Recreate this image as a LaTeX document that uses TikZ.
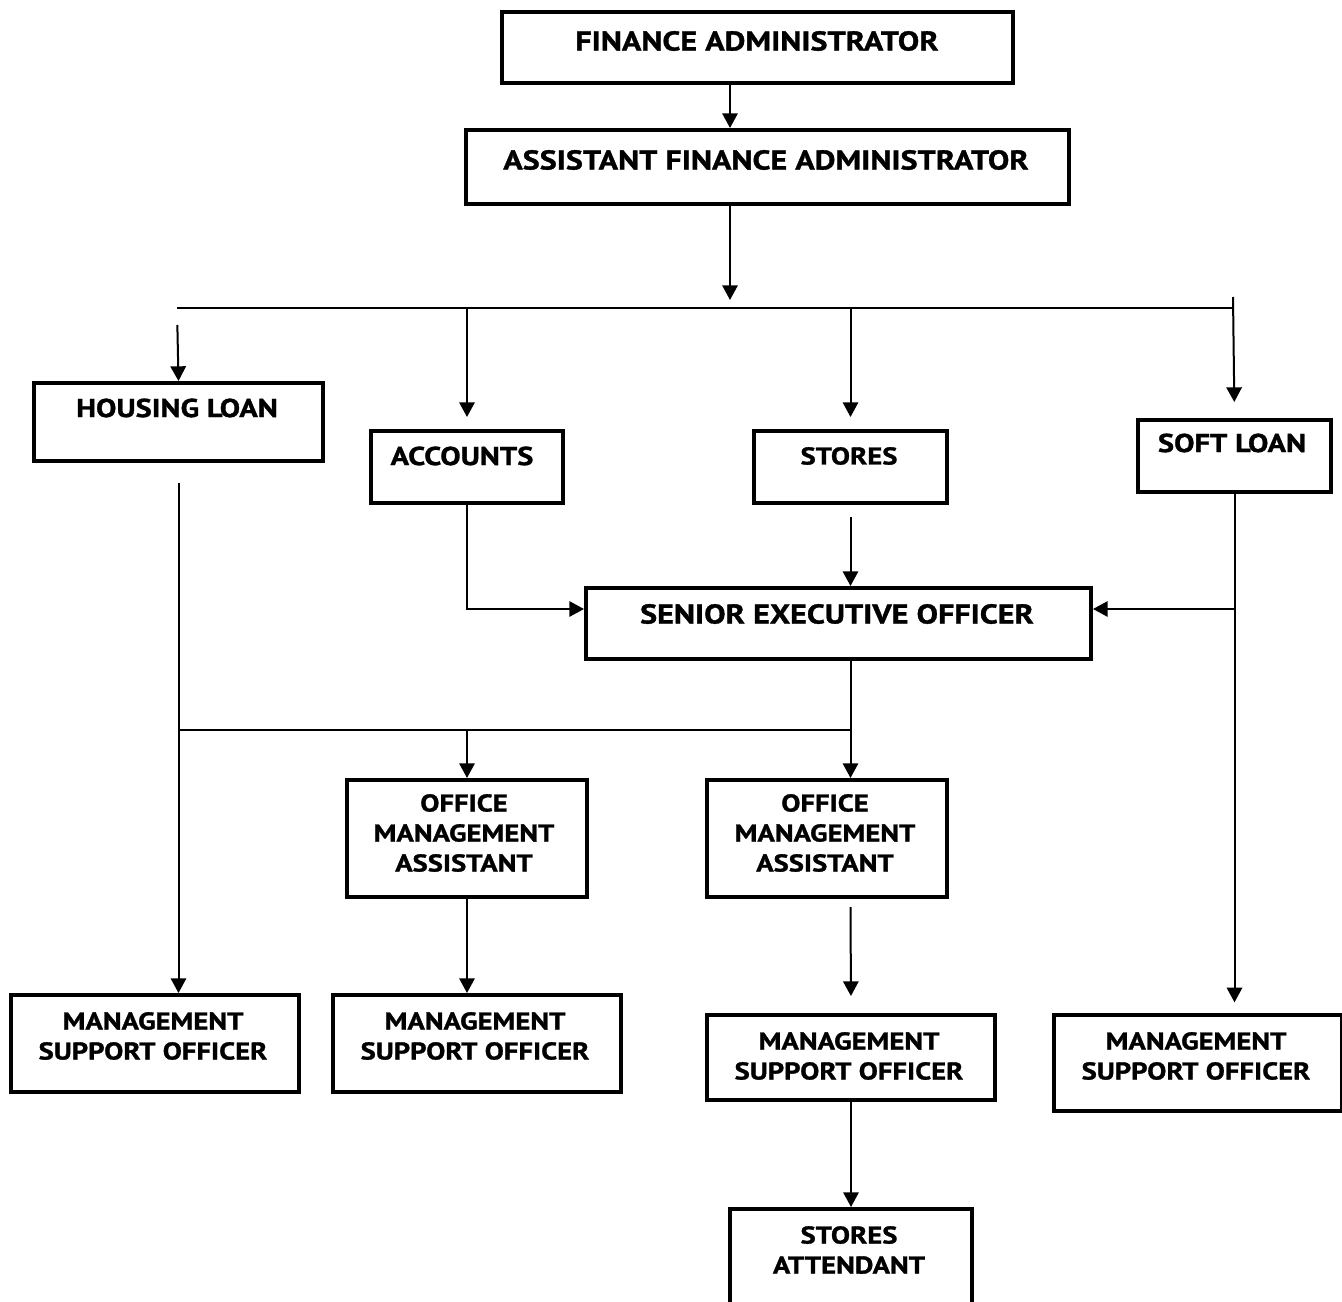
\documentclass[tikz,border=0pt]{standalone}
\usepackage{fontspec}
\setmainfont{PT Sans}[BoldFeatures={FakeStretch=1.18,FakeBold=1.2}]
\usetikzlibrary{arrows.meta}
\begin{document}
\begin{tikzpicture}[x=0.75pt,y=-0.75pt,
  box/.style={draw,line width=3pt,rectangle,inner sep=0pt,anchor=north west},
  lbl/.style={font=\bfseries\fontsize{18.2}{22.5}\selectfont,align=center,inner sep=0pt},
  midlbl/.style={font=\bfseries\fontsize{19.4}{22.5}\selectfont,align=center,inner sep=0pt},
  biglbl/.style={font=\bfseries\fontsize{20.4}{22.5}\selectfont,align=center,inner sep=0pt},
  conn/.style={line width=1.5pt},
  arr/.style={line width=1.5pt,-{Triangle[length=11pt,width=11.5pt]}}]
\clip (0,0) rectangle (1342,1302);
\fill[white] (0,0) rectangle (1342,1302);
% boxes
\node[box,minimum width=383.25pt,minimum height=53.25pt] (fa) at (500,10) {};
\node[box,minimum width=452.25pt,minimum height=55.5pt] (afa) at (464,128) {};
\node[box,minimum width=216.75pt,minimum height=58.5pt] (hl) at (32,381) {};
\node[box,minimum width=144pt,minimum height=54pt] (acc) at (369,429) {};
\node[box,minimum width=144.75pt,minimum height=54pt] (st) at (752,429) {};
\node[box,minimum width=144.75pt,minimum height=54pt] (sl) at (1136,418) {};
\node[box,minimum width=378.75pt,minimum height=53.25pt] (seo) at (584,586) {};
\node[box,minimum width=180pt,minimum height=87.75pt] (oma1) at (345,778) {};
\node[box,minimum width=180pt,minimum height=87.75pt] (oma2) at (705,778) {};
\node[box,minimum width=216pt,minimum height=72.75pt] (mso1) at (9,993) {};
\node[box,minimum width=216pt,minimum height=72.75pt] (mso2) at (331,993) {};
\node[box,minimum width=216pt,minimum height=63.75pt] (mso3) at (705,1013) {};
\node[box,minimum width=216pt,minimum height=72pt] (mso4) at (1052,1013) {};
\node[box,minimum width=181.5pt,minimum height=90pt] (sa) at (728,1207) {};
% labels
\node[biglbl] (tfa) at (757,41) {FINANCE ADMINISTRATOR};
\node[biglbl] (tafa) at (766,160) {ASSISTANT FINANCE ADMINISTRATOR};
\node[midlbl] (thl) at (177,408) {HOUSING LOAN};
\node[midlbl] (tacc) at (462,456) {ACCOUNTS};
\node[lbl] (tst) at (849,456) {STORES};
\node[midlbl] (tsl) at (1232,443) {SOFT LOAN};
\node[biglbl] (tseo) at (837,614) {SENIOR EXECUTIVE OFFICER};
\node[lbl] (toma1) at (464,833) {OFFICE\\MANAGEMENT\\ASSISTANT};
\node[lbl] (toma2) at (825,833) {OFFICE\\MANAGEMENT\\ASSISTANT};
\node[lbl] (tmso1) at (153,1036) {MANAGEMENT\\SUPPORT OFFICER};
\node[lbl] (tmso2) at (475,1036) {MANAGEMENT\\SUPPORT OFFICER};
\node[lbl] (tmso3) at (849,1056) {MANAGEMENT\\SUPPORT OFFICER};
\node[lbl] (tmso4) at (1196,1056) {MANAGEMENT\\SUPPORT OFFICER};
\node[lbl] (tsa) at (849,1250) {STORES\\ATTENDANT};
% helper coordinates
\coordinate (c730) at (730,0);
\coordinate (busT) at (730,300);
\coordinate (busL) at (177,308);
\coordinate (busR) at (1233,308);
\coordinate (slTop) at (1233,297);
\coordinate (y609) at (0,609);
\coordinate (y730) at (0,730);
% connectors
\draw[arr] (fa.south -| c730) -- (afa.north -| c730);
\draw[arr] (afa.south -| c730) -- (busT);
\draw[conn] (busL) -- (busR);
\draw[arr,shorten >=12pt] (slTop) -- (sl.north);
\draw[arr,shorten <=12.75pt] (busL) -- (hl.north);
\draw[arr,shorten >=9pt] (busL -| acc.north) -- (acc.north);
\draw[arr,shorten >=9pt] (busL -| st.north) -- (st.north);
\draw[arr] (acc.south) |- (seo.west |- y609);
\draw[arr,shorten <=9pt] (st.south) -- (st.south |- seo.north);
\draw[arr,shorten >=8pt] (sl.south) -- (sl.south |- mso4.north);
\draw[arr] (sl.south |- y609) -- (seo.east |- y609);
\draw[arr,shorten <=15pt] (hl.south) -- (hl.south |- mso1.north);
\draw[arr] (st.south |- seo.south) -- (st.south |- oma2.north);
\draw[conn] (hl.south |- y730) -- (st.south |- y730);
\draw[arr] (acc.south |- y730) -- (acc.south |- oma1.north);
\draw[arr] (oma1.south) -- (oma1.south |- mso2.north);
\draw[arr,shorten <=6pt,shorten >=12.75pt] (oma2.south -| st.south) -- (mso3.north);
\draw[arr] (mso3.south) -- (sa.north);
\end{tikzpicture}
\end{document}
